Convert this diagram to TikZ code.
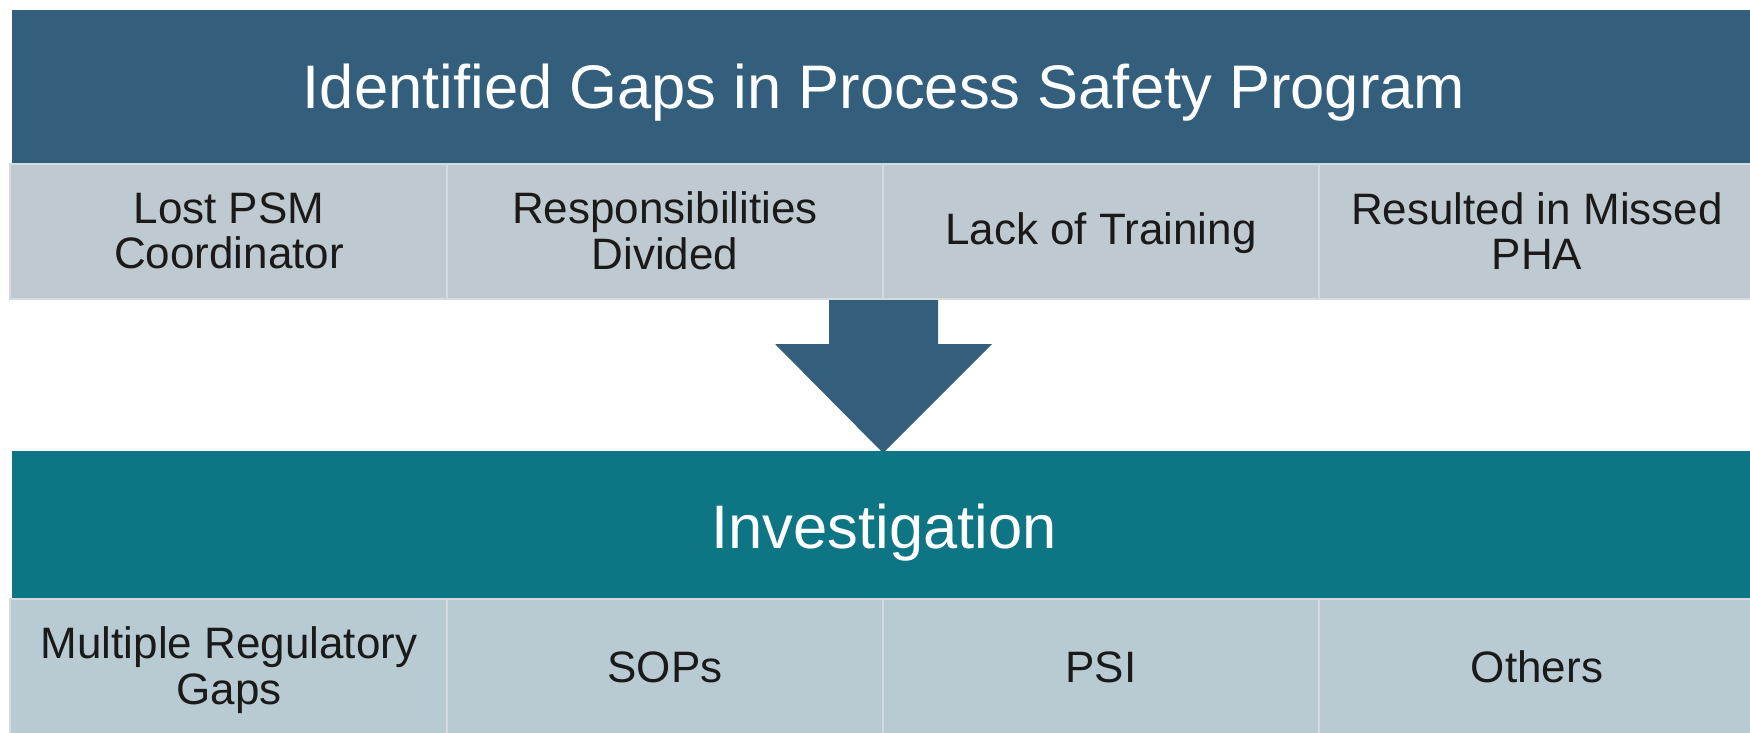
\documentclass[tikz,border=0pt]{standalone}
\usepackage{fontspec}
\setmainfont{Liberation Sans}
\definecolor{navy}{HTML}{335F7D}
\definecolor{teal2}{HTML}{0E7584}
\definecolor{gray1}{HTML}{BFC9D0}
\definecolor{gray2}{HTML}{B9CBD2}
\definecolor{sep}{HTML}{D3DBE0}
\definecolor{txt}{HTML}{1A1A1A}
\begin{document}
\begin{tikzpicture}[x=1pt,y=-1pt,
  banner/.style={fill=#1, draw=none},
  cell/.style={fill=#1, draw=sep, line width=1.5pt},
  celltext/.style={text=txt, align=center, font=\fontsize{44}{45.5}\selectfont, inner sep=0pt},
  bigtext/.style={text=white, font=\fontsize{61.5}{66}\selectfont, inner sep=0pt}]
\useasboundingbox (0,0) rectangle (1750,733);
% top banner
\fill[banner=navy] (12,10) rectangle (1750,164);
\node[bigtext] (title) at (884,93) {Identified Gaps in Process Safety Program};
% top row cells
\foreach \a/\b in {10/447,447/883,883/1319,1319/1752}{
  \draw[cell=gray1] (\a,164) rectangle (\b,299);
}
\node[celltext] (t1) at (229,231) {Lost PSM\\Coordinator};
\node[celltext] (t2) at (665,231) {Responsibilities\\Divided};
\node[celltext] (t3) at (1101,233) {Lack of Training};
\node[celltext] (t4) at (1537,231) {Resulted in Missed\\PHA};
% arrow
\fill[navy] (829,300) -- (938,300) -- (938,344) -- (992,344) -- (883,453) -- (775,344) -- (829,344) -- cycle;
% bottom banner
\fill[banner=teal2] (12,451) rectangle (1750,599);
\node[bigtext] (inv) at (884,533) {Investigation};
\foreach \a/\b in {10/447,447/883,883/1319,1319/1752}{
  \draw[cell=gray2] (\a,599) rectangle (\b,735);
}
\node[celltext] (b1) at (229,670) {Multiple Regulatory\\Gaps};
\node[celltext] (b2) at (665,667) {SOPs};
\node[celltext] (b3) at (1101,667) {PSI};
\node[celltext] (b4) at (1537,667) {Others};
\end{tikzpicture}
\end{document}
